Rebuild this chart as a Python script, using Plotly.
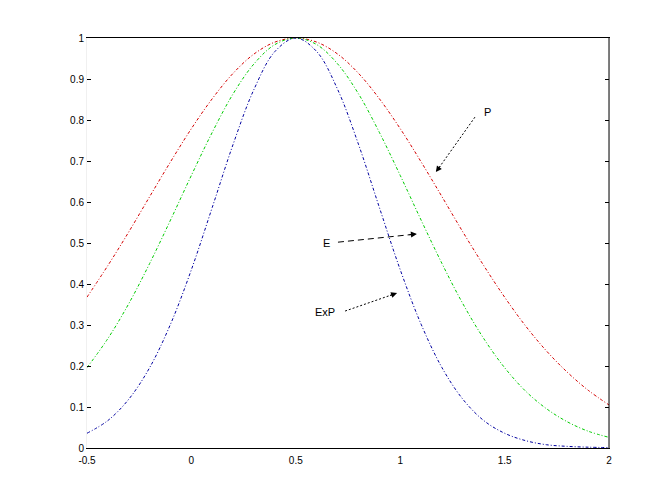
import plotly.graph_objects as go

# ---- data ----
x_vals = [-0.5, -0.4, -0.3, -0.2, -0.1, 0.0, 0.1, 0.2, 0.3, 0.4, 0.5, 0.6, 0.7,
          0.8, 0.9, 1.0, 1.1, 1.2, 1.3, 1.4, 1.5, 1.6, 1.7, 1.8, 1.9, 2.0]
p_vals = [0.368, 0.445, 0.527, 0.613, 0.698, 0.779, 0.852, 0.914, 0.961, 0.990, 1.000,
          0.990, 0.961, 0.914, 0.852, 0.779, 0.698, 0.613, 0.527, 0.445, 0.368,
          0.298, 0.237, 0.185, 0.141, 0.105]
e_vals = [0.196, 0.267, 0.352, 0.450, 0.556, 0.665, 0.770, 0.864, 0.937, 0.984, 1.000,
          0.984, 0.937, 0.864, 0.770, 0.665, 0.556, 0.450, 0.352, 0.267, 0.196,
          0.139, 0.096, 0.064, 0.041, 0.026]
exp_vals = [0.036, 0.067, 0.119, 0.196, 0.302, 0.435, 0.587, 0.741, 0.875, 0.967, 1.000,
            0.967, 0.875, 0.741, 0.587, 0.435, 0.302, 0.196, 0.119, 0.067, 0.036,
            0.018, 0.008, 0.004, 0.002, 0.001]

x_ticks = [-0.5, 0, 0.5, 1, 1.5, 2]
x_tick_text = ["-0.5", "0", "0.5", "1", "1.5", "2"]
y_ticks = [0, 0.1, 0.2, 0.3, 0.4, 0.5, 0.6, 0.7, 0.8, 0.9, 1]
y_tick_text = ["0", "0.1", "0.2", "0.3", "0.4", "0.5", "0.6", "0.7", "0.8", "0.9", "1"]

# labels: text, text position, arrow tail, arrow head, dash style
labels = ["P", "E", "ExP"]
label_pos = [(1.420, 0.820), (0.649, 0.500), (0.640, 0.332)]
arrow_tail = [(1.358, 0.807), (0.702, 0.502), (0.736, 0.334)]
arrow_head = [(1.171, 0.673), (1.080, 0.522), (0.985, 0.378)]
arrow_dash = ["2px,2px", "6px,4px", "2px,2px"]

W, H = 672, 504
ML, MR, MT, MB = 87, 63, 38, 56
XR = (-0.5, 2.0)
YR = (0.0, 1.0)
px_per_x = (W - ML - MR) / (XR[1] - XR[0])
px_per_y = (H - MT - MB) / (YR[1] - YR[0])

dashdot = "3px,2px,1px,2px"

fig = go.Figure()
for vals, col in [(p_vals, "#d40000"), (e_vals, "#00cc00"), (exp_vals, "#0000a0")]:
    fig.add_trace(go.Scatter(
        x=x_vals, y=vals, mode="lines",
        line=dict(color=col, width=1, dash=dashdot, shape="spline"),
        hoverinfo="skip", showlegend=False))

shapes = []
annotations = []
for txt, lp, tail, head, dsh in zip(labels, label_pos, arrow_tail, arrow_head, arrow_dash):
    annotations.append(dict(x=lp[0], y=lp[1], xref="x", yref="y", text=txt,
                            showarrow=False,
                            font=dict(family="Liberation Sans, Arial, sans-serif",
                                      size=11, color="black")))
    shapes.append(dict(type="line", xref="x", yref="y",
                       x0=tail[0], y0=tail[1], x1=head[0], y1=head[1],
                       line=dict(color="black", width=1, dash=dsh)))
    # short arrow segment at the head to draw the arrowhead
    dxp = (tail[0] - head[0]) * px_per_x
    dyp = -(tail[1] - head[1]) * px_per_y
    L = (dxp ** 2 + dyp ** 2) ** 0.5
    annotations.append(dict(x=head[0], y=head[1], xref="x", yref="y", text="",
                            showarrow=True, arrowhead=2, arrowsize=1.2, arrowwidth=1,
                            arrowcolor="black",
                            ax=dxp / L * 9, ay=dyp / L * 9))

# right border in black
shapes.append(dict(type="line", xref="paper", yref="paper", x0=1, x1=1, y0=0, y1=1,
                   line=dict(color="black", width=1), layer="above"))

font = dict(family="Liberation Sans, Arial, sans-serif", size=10, color="black")

fig.update_layout(
    width=W, height=H,
    margin=dict(l=ML, r=MR, t=MT, b=MB, pad=0),
    paper_bgcolor="white", plot_bgcolor="white",
    showlegend=False, hovermode=False,
    font=font,
    shapes=shapes, annotations=annotations,
    xaxis=dict(range=list(XR), tickvals=x_ticks, ticktext=x_tick_text,
               showgrid=False, zeroline=False, showline=True, linecolor="black",
               linewidth=1, mirror=True, ticks="", tickfont=font,
               ticklabelstandoff=3),
    yaxis=dict(range=list(YR), tickvals=y_ticks, ticktext=y_tick_text,
               showgrid=False, zeroline=False, showline=True, linecolor="#f0f0f0",
               linewidth=1, mirror="ticks", ticks="inside", ticklen=4,
               tickcolor="black", tickwidth=1, tickfont=font),
)

fig.write_html("out.html", config={"displayModeBar": False})
